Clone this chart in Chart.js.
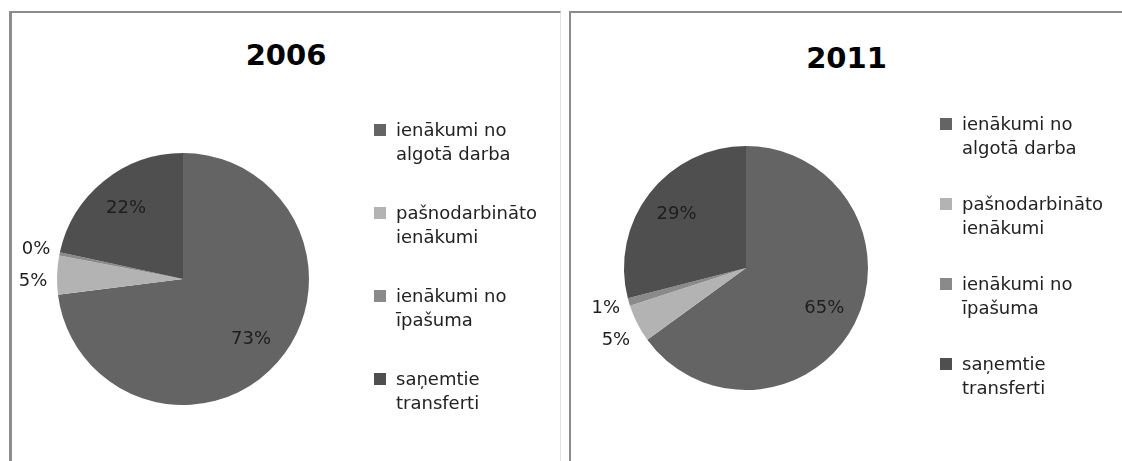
<!DOCTYPE html>
<html>
<head>
<meta charset="utf-8">
<script src="https://cdn.jsdelivr.net/npm/chart.js@4.4.1/dist/chart.umd.min.js"></script>
<style>
    body { margin: 0; width: 1122px; height: 461px; overflow: hidden; position: relative; background: #fff; font-family: "DejaVu Sans", sans-serif; }
    .panel { position: absolute; top: 11px; height: 450px; border-top: 2px solid #8c8c8c; }
    #panel-2006 { left: 9px; width: 548px; border-left: 3px solid #8c8c8c; border-right: 1px solid #e2e2e2; }
    #panel-2011 { left: 569px; width: 560px; border-left: 2px solid #8c8c8c; }
    .panel canvas { position: absolute; left: 0; top: 0; }
    .title { position: absolute; left: 0; text-align: center; font-weight: bold; font-size: 29px; line-height: 34px; color: #000; }
    .legend-item { position: absolute; font-size: 18px; line-height: 24px; color: #222; white-space: nowrap; }
    .legend-box { position: absolute; width: 12px; height: 12px; }
</style>
</head>
<body>
<div class="panel" id="panel-2006">
    <div class="title" style="top:25px;width:548px;">2006</div>
    <canvas id="pie-2006" width="548" height="448"></canvas>
</div>
<div class="panel" id="panel-2011">
    <div class="title" style="top:28px;width:551px;">2011</div>
    <canvas id="pie-2011" width="551" height="448"></canvas>
</div>
<script>
// legend text, split the way the original wraps it
const categories = [
    ['ienākumi no', 'algotā darba'],
    ['pašnodarbināto', 'ienākumi'],
    ['ienākumi no', 'īpašuma'],
    ['saņemtie', 'transferti']
];
const values2006 = [73, 5, 0.4, 21.6];
const values2011 = [65, 5, 1, 29];
const sliceColors = ['#646464', '#b3b3b3', '#8a8a8a', '#4f4f4f'];

// percentage labels: big slices inside, small ones outside the rim
const pieLabels = {
    id: 'pieLabels',
    afterDatasetsDraw(chart) {
        const ctx = chart.ctx;
        const meta = chart.getDatasetMeta(0);
        const data = chart.data.datasets[0].data;
        const total = data.reduce((a, b) => a + b, 0);
        const outside = [];
        ctx.save();
        ctx.font = '18px "DejaVu Sans"';
        ctx.fillStyle = '#1e1e1e';
        ctx.textAlign = 'center';
        ctx.textBaseline = 'middle';
        meta.data.forEach((arc, i) => {
            const { x, y, startAngle, endAngle, outerRadius } = arc.getProps(['x', 'y', 'startAngle', 'endAngle', 'outerRadius'], true);
            const mid = (startAngle + endAngle) / 2;
            const text = Math.round(data[i] / total * 100) + '%';
            if (data[i] / total >= 0.1) {
                const r = outerRadius * 0.72;
                ctx.fillText(text, x + Math.cos(mid) * r, y + Math.sin(mid) * r);
            } else {
                const r = outerRadius + 24;
                outside.push({ text, lx: x + Math.cos(mid) * r, ly: y + Math.sin(mid) * r });
            }
        });
        outside.sort((a, b) => a.ly - b.ly);
        for (let k = 1; k < outside.length; k++) {
            if (outside[k].ly - outside[k - 1].ly < 32) outside[k].ly = outside[k - 1].ly + 32;
        }
        outside.forEach(l => ctx.fillText(l.text, l.lx, l.ly));
        ctx.restore();
    }
};

function drawPie(canvasId, values, padding) {
    const ctx = document.getElementById(canvasId).getContext('2d');
    return new Chart(ctx, {
        type: 'pie',
        data: {
            labels: categories.map(c => c.join(' ')),
            datasets: [{
                data: values,
                backgroundColor: sliceColors,
                borderWidth: 0,
                hoverOffset: 0
            }]
        },
        options: {
            responsive: false,
            animation: false,
            events: [],
            layout: { padding: padding },
            plugins: {
                legend: { display: false },
                tooltip: { enabled: false }
            }
        },
        plugins: [pieLabels]
    });
}

function buildLegend(boxX, textX, firstY, pitch) {
    categories.forEach((lines, i) => {
        const cy = firstY + pitch * i;
        const box = document.createElement('div');
        box.className = 'legend-box';
        box.style.left = boxX + 'px';
        box.style.top = (cy - 6) + 'px';
        box.style.background = sliceColors[i];
        document.body.appendChild(box);

        const item = document.createElement('div');
        item.className = 'legend-item';
        item.style.left = textX + 'px';
        item.style.top = (cy - 12) + 'px';
        item.innerHTML = lines.join('<br>');
        document.body.appendChild(item);
    });
}

drawPie('pie-2006', values2006, { left: 45, right: 251, top: 140, bottom: 56 });
drawPie('pie-2011', values2011, { left: 53, right: 254, top: 133, bottom: 71 });
buildLegend(374, 396, 130, 83);
buildLegend(940, 962, 124, 80);
</script>
</body>
</html>
